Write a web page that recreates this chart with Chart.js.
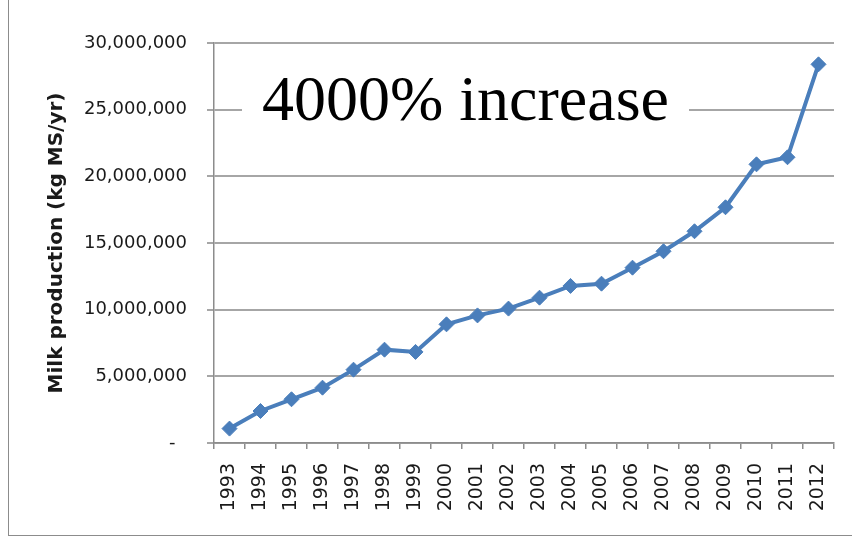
<!DOCTYPE html>
<html>
<head>
<meta charset="utf-8">
<script src="https://cdn.jsdelivr.net/npm/chart.js@4/dist/chart.umd.min.js"></script>
<style>
  html, body { margin: 0; padding: 0; background: #fff; }
  #wrap { position: relative; width: 852px; height: 537px; overflow: hidden; }
  #frame { position: absolute; left: 8px; top: -2px; width: 900px; height: 538px; border: 1px solid #8c8c8c; box-sizing: border-box; }
  #milkChart { position: absolute; left: 0; top: 0; }
  #note { position: absolute; left: 242px; top: 67px; padding: 0 20px; background: #fff; color: #000;
          font-family: "Liberation Serif", "Times New Roman", serif; font-size: 64px; line-height: 64px; white-space: nowrap; }
</style>
</head>
<body>
<div id="wrap">
  <div id="frame"></div>
  <canvas id="milkChart" width="852" height="537"></canvas>
  <div id="note">4000% increase</div>
</div>
<script>
// milk solids per year
const years = ['1993', '1994', '1995', '1996', '1997', '1998', '1999', '2000', '2001', '2002',
               '2003', '2004', '2005', '2006', '2007', '2008', '2009', '2010', '2011', '2012'];
const production = [1080000, 2400000, 3280000, 4150000, 5500000, 7000000, 6830000, 8900000, 9570000, 10080000,
                    10900000, 11780000, 11950000, 13150000, 14380000, 15880000, 17680000, 20900000, 21430000, 28400000];
const yMin = 0;
const yMax = 30000000;
const yStep = 5000000;

const textColor = '#1a1a1a';
const axisGray = '#8c8c8c';

const ctx = document.getElementById('milkChart').getContext('2d');
const chart = new Chart(ctx, {
  type: 'line',
  data: {
    labels: years,
    datasets: [{
      data: production,
      borderColor: '#4a7ebb',
      borderWidth: 4,
      tension: 0,
      pointStyle: 'rectRot',
      pointRadius: 7.5,
      pointBackgroundColor: '#4a7ebb',
      pointBorderColor: '#4a7ebb',
      pointBorderWidth: 1
    }]
  },
  options: {
    responsive: false,
    animation: false,
    layout: { padding: { left: 0, right: 18, top: 43, bottom: 0 } },
    plugins: {
      legend: { display: false },
      tooltip: { enabled: false }
    },
    scales: {
      x: {
        offset: true,
        grid: { offset: true, drawOnChartArea: false, drawTicks: true, tickLength: 6, color: axisGray, lineWidth: 1.5 },
        border: { color: axisGray, width: 1.5 },
        ticks: { minRotation: 90, maxRotation: 90, autoSkip: false, padding: 14, color: textColor,
                 font: { family: 'DejaVu Sans', size: 19 } },
        afterFit: (s) => { s.height = 94; s.paddingLeft = 0; s.paddingRight = 0; }
      },
      y: {
        min: yMin,
        max: yMax,
        grid: { color: '#a6a6a6', lineWidth: 2, tickLength: 7 },
        border: { color: axisGray, width: 1.5 },
        ticks: {
          stepSize: yStep,
          padding: 20,
          color: textColor,
          font: { family: 'DejaVu Sans', size: 18 },
          callback: (v) => v === 0 ? '-  ' : v.toLocaleString('en-US')
        },
        title: {
          display: true,
          text: 'Milk production (kg MS/yr)',
          color: textColor,
          font: { family: 'DejaVu Sans', size: 20, weight: 'bold' },
          padding: { top: 45, bottom: 0 }
        },
        afterFit: (s) => { s.width = 214; }
      }
    }
  }
});
</script>
</body>
</html>
